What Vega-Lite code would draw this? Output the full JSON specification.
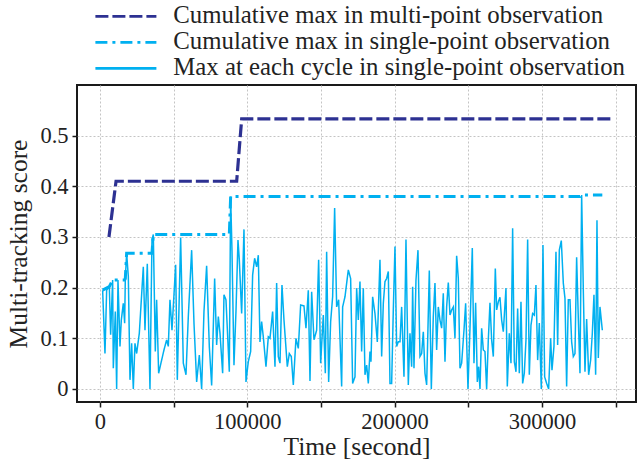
{
  "$schema": "https://vega.github.io/schema/vega-lite/v6.json",
  "autosize": {"type": "none"},
  "padding": {"left": 77, "top": 85, "right": 1, "bottom": 60},
  "width": 559,
  "height": 317,
  "background": "white",
  "config": {
    "font": "Liberation Serif",
    "view": {"stroke": "#1a1a1a", "strokeWidth": 2},
    "axis": {
      "domain": false,
      "grid": true,
      "gridColor": "#c4c4c4",
      "gridDash": [2, 2],
      "gridWidth": 1,
      "tickColor": "#1a1a1a",
      "tickWidth": 1.5,
      "tickSize": 5,
      "labelFont": "Liberation Serif",
      "labelFontSize": 22.5,
      "labelColor": "#222222",
      "titleFont": "Liberation Serif",
      "titleFontSize": 25.5,
      "titleFontWeight": "normal",
      "titleColor": "#222222"
    }
  },
  "datasets": {
    "multi": [
      {"t": 6100, "v": 0.300}, {"t": 10900, "v": 0.410}, {"t": 92800, "v": 0.410}, {"t": 96200, "v": 0.533}, {"t": 347400, "v": 0.533}
    ],
    "cumsingle": [
      {"t": 1810, "v": 0.195}, {"t": 6340, "v": 0.202}, {"t": 8600, "v": 0.215}, {"t": 16750, "v": 0.215}, {"t": 17200, "v": 0.218}, {"t": 18100, "v": 0.268}, {"t": 35300, "v": 0.268}, {"t": 36210, "v": 0.305}, {"t": 87800, "v": 0.305}, {"t": 88710, "v": 0.380}, {"t": 325870, "v": 0.380}, {"t": 327000, "v": 0.383}, {"t": 341030, "v": 0.383}
    ],
    "cycle": [
      {"t":1810,"v":0.195},{"t":3390,"v":0.070},{"t":4530,"v":0.195},{"t":6340,"v":0.202},{"t":7240,"v":0.107},{"t":8600,"v":0.215},{"t":9050,"v":0.041},{"t":10410,"v":0.153},{"t":11320,"v":0},{"t":12220,"v":0.215},
      {"t":13580,"v":0.084},{"t":14480,"v":0.136},{"t":15840,"v":0.169},{"t":16750,"v":0.130},{"t":17200,"v":0.218},{"t":18100,"v":0.268},{"t":19240,"v":0.222},{"t":20370,"v":0.018},{"t":21500,"v":0.090},{"t":22630,"v":0},
      {"t":23760,"v":0.090},{"t":24890,"v":0.070},{"t":26700,"v":0.110},{"t":29420,"v":0.241},{"t":30550,"v":0.116},{"t":32130,"v":0.247},{"t":33940,"v":0},{"t":35300,"v":0.294},{"t":36210,"v":0.305},{"t":37560,"v":0.074},
      {"t":38470,"v":0.176},{"t":39830,"v":0.031},{"t":41860,"v":0.057},{"t":43450,"v":0.077},{"t":45260,"v":0.097},{"t":46390,"v":0.084},{"t":47520,"v":0.176},{"t":48880,"v":0.116},{"t":51370,"v":0.245},{"t":52500,"v":0.018},
      {"t":54760,"v":0.299},{"t":56570,"v":0.051},{"t":58380,"v":0.028},{"t":59970,"v":0.143},{"t":62230,"v":0.274},{"t":63820,"v":0.130},{"t":65630,"v":0.014},{"t":67440,"v":0.067},{"t":69020,"v":0},{"t":70600,"v":0.153},
      {"t":72410,"v":0.243},{"t":74220,"v":0.084},{"t":75810,"v":0.007},{"t":77850,"v":0.218},{"t":79200,"v":0.087},{"t":80340,"v":0.143},{"t":81470,"v":0.110},{"t":83280,"v":0.031},{"t":84180,"v":0.186},{"t":85540,"v":0.176},
      {"t":87800,"v":0.034},{"t":88710,"v":0.380},{"t":89610,"v":0.274},{"t":90970,"v":0.047},{"t":92330,"v":0.153},{"t":93690,"v":0.294},{"t":94590,"v":0.255},{"t":96180,"v":0.149},{"t":97760,"v":0.315},{"t":99120,"v":0.014},
      {"t":100700,"v":0.054},{"t":102290,"v":0.074},{"t":103640,"v":0.225},{"t":105000,"v":0.258},{"t":106360,"v":0.241},{"t":107490,"v":0.264},{"t":108620,"v":0.093},{"t":109750,"v":0.133},{"t":110880,"v":0.103},{"t":112700,"v":0.044},
      {"t":114280,"v":0.103},{"t":115410,"v":0.100},{"t":117220,"v":0.153},{"t":118810,"v":0.044},{"t":119940,"v":0.209},{"t":121070,"v":0.064},{"t":122200,"v":0.051},{"t":123560,"v":0.205},{"t":124920,"v":0.136},{"t":127180,"v":0.044},
      {"t":128540,"v":0.070},{"t":129890,"v":0.064},{"t":131250,"v":0.008},{"t":133060,"v":0.100},{"t":134650,"v":0.080},{"t":136230,"v":0.166},{"t":138490,"v":0.164},{"t":139850,"v":0.120},{"t":141430,"v":0.195},{"t":142570,"v":0.016},
      {"t":143700,"v":0.192},{"t":145280,"v":0.097},{"t":147090,"v":0.116},{"t":148450,"v":0.255},{"t":149810,"v":0.051},{"t":151620,"v":0.146},{"t":152980,"v":0.031},{"t":153880,"v":0.271},{"t":155240,"v":0.014},{"t":156600,"v":0.133},
      {"t":157950,"v":0.182},{"t":159310,"v":0.357},{"t":160670,"v":0.162},{"t":162030,"v":0.176},{"t":164070,"v":0.005},{"t":164740,"v":0.162},{"t":166330,"v":0.182},{"t":168590,"v":0.235},{"t":170170,"v":0.218},{"t":171530,"v":0.011},
      {"t":173120,"v":0.024},{"t":174250,"v":0.199},{"t":175380,"v":0.136},{"t":176510,"v":0.212},{"t":177640,"v":0.074},{"t":178770,"v":0.199},{"t":179900,"v":0.028},{"t":181040,"v":0.047},{"t":182170,"v":0.011},{"t":183300,"v":0.074},
      {"t":183980,"v":0.054},{"t":185110,"v":0.182},{"t":186690,"v":0.149},{"t":188280,"v":0.093},{"t":190090,"v":0.255},{"t":191220,"v":0.064},{"t":192350,"v":0.169},{"t":193480,"v":0.212},{"t":194610,"v":0.218},{"t":195740,"v":0.232},
      {"t":196880,"v":0.011},{"t":198010,"v":0.011},{"t":199140,"v":0.156},{"t":200270,"v":0.281},{"t":201400,"v":0.084},{"t":202530,"v":0.093},{"t":203670,"v":0.093},{"t":204800,"v":0.162},{"t":206380,"v":0.024},{"t":207740,"v":0.295},
      {"t":209320,"v":0.008},{"t":210450,"v":0.110},{"t":211590,"v":0.044},{"t":212270,"v":0.202},{"t":213170,"v":0.041},{"t":214530,"v":0.215},{"t":215890,"v":0.274},{"t":217240,"v":0.064},{"t":218380,"v":0.070},{"t":219510,"v":0.113},
      {"t":220640,"v":0.031},{"t":221770,"v":0.008},{"t":223580,"v":0.234},{"t":224940,"v":0},{"t":226290,"v":0.143},{"t":227430,"v":0.209},{"t":228560,"v":0.077},{"t":229690,"v":0.162},{"t":230820,"v":0.136},{"t":231950,"v":0.120},
      {"t":233080,"v":0.189},{"t":234220,"v":0.054},{"t":235350,"v":0.162},{"t":236480,"v":0.210},{"t":237610,"v":0.146},{"t":238740,"v":0.156},{"t":239870,"v":0.162},{"t":241000,"v":0.100},{"t":242140,"v":0.263},{"t":243270,"v":0.218},
      {"t":244400,"v":0.041},{"t":245530,"v":0.051},{"t":247120,"v":0.116},{"t":248250,"v":0.169},{"t":249830,"v":0},{"t":251190,"v":0.120},{"t":252770,"v":0.278},{"t":253900,"v":0.051},{"t":255030,"v":0.170},{"t":256170,"v":0.014},
      {"t":257070,"v":0.044},{"t":257980,"v":0},{"t":259110,"v":0.120},{"t":260240,"v":0.077},{"t":261370,"v":0.074},{"t":262500,"v":0},{"t":263630,"v":0.097},{"t":264770,"v":0.170},{"t":265900,"v":0.097},{"t":267030,"v":0.064},
      {"t":268390,"v":0.238},{"t":269290,"v":0.156},{"t":270420,"v":0.172},{"t":271550,"v":0.181},{"t":272690,"v":0.136},{"t":273820,"v":0.113},{"t":275630,"v":0.199},{"t":276530,"v":0.005},{"t":277890,"v":0.110},{"t":279020,"v":0.051},
      {"t":280150,"v":0.317},{"t":281290,"v":0.054},{"t":282420,"v":0.034},{"t":283550,"v":0.159},{"t":284680,"v":0.031},{"t":285810,"v":0.172},{"t":286940,"v":0.011},{"t":288070,"v":0.031},{"t":289210,"v":0.097},{"t":290340,"v":0.295},
      {"t":291470,"v":0.028},{"t":292600,"v":0.126},{"t":293730,"v":0.149},{"t":294860,"v":0.146},{"t":295990,"v":0.205},{"t":297130,"v":0.057},{"t":298260,"v":0.130},{"t":299610,"v":0},{"t":300750,"v":0.284},{"t":301880,"v":0.024},
      {"t":303240,"v":0.011},{"t":304590,"v":0},{"t":305950,"v":0.100},{"t":306860,"v":0.037},{"t":308210,"v":0.084},{"t":309570,"v":0.271},{"t":310700,"v":0.087},{"t":311840,"v":0.274},{"t":313190,"v":0.293},{"t":314550,"v":0.209},
      {"t":315680,"v":0.179},{"t":316810,"v":0.005},{"t":317950,"v":0.176},{"t":319080,"v":0.176},{"t":320210,"v":0.093},{"t":321340,"v":0.064},{"t":322470,"v":0.070},{"t":323600,"v":0.260},{"t":324740,"v":0.139},{"t":325870,"v":0.031},
      {"t":327000,"v":0.383},{"t":328130,"v":0.195},{"t":329260,"v":0.034},{"t":330390,"v":0.138},{"t":331750,"v":0.028},{"t":333110,"v":0.057},{"t":334240,"v":0.110},{"t":335370,"v":0.186},{"t":336500,"v":0.028},{"t":337410,"v":0.333},
      {"t":338310,"v":0.061},{"t":339440,"v":0.162},{"t":341030,"v":0.116}
    ]
  },
  "encoding": {
    "x": {
      "field": "t", "type": "quantitative",
      "scale": {"domain": [-15600, 363900], "nice": false, "zero": false},
      "axis": {
        "title": "Time [second]",
        "values": [0, 50000, 100000, 150000, 200000, 250000, 300000, 350000],
        "format": "d",
        "labelExpr": "datum.value % 100000 === 0 ? datum.label : ''",
        "labelPadding": 3,
        "titlePadding": 2,
        "labelFlush": false
      }
    },
    "y": {
      "field": "v", "type": "quantitative",
      "scale": {"domain": [-0.0257, 0.6], "nice": false, "zero": false},
      "axis": {
        "title": "Multi-tracking score",
        "values": [0, 0.1, 0.2, 0.3, 0.4, 0.5],
        "format": ".1~f",
        "labelPadding": 4,
        "titlePadding": 8
      }
    }
  },
  "layer": [
    {
      "data": {"name": "cycle"},
      "mark": {"type": "line", "strokeWidth": 1.5},
      "encoding": {
        "color": {"datum": "Max at each cycle in single-point observation", "type": "nominal",
          "scale": {"domain": ["Cumulative max in multi-point observation", "Cumulative max in single-point observation", "Max at each cycle in single-point observation"], "range": ["#2d3192", "#00b0f0", "#00b0f0"]},
          "legend": {
            "orient": "none", "legendX": 36.5, "legendY": -81, "title": null,
            "symbolType": "M-3.05,0H3.05", "symbolSize": 400, "symbolStrokeWidth": 2.8,
            "labelFontSize": 24.8, "labelFont": "Liberation Serif", "labelColor": "#222222",
            "labelOffset": 35, "labelLimit": 0, "rowPadding": 0
          }
        },
        "strokeDash": {"datum": "Max at each cycle in single-point observation", "type": "nominal",
          "scale": {"domain": ["Cumulative max in multi-point observation", "Cumulative max in single-point observation", "Max at each cycle in single-point observation"], "range": [[13, 4], [12, 5, 3, 5], [1, 0]]}
        }
      }
    },
    {
      "data": {"name": "cumsingle"},
      "mark": {"type": "line", "strokeWidth": 3},
      "encoding": {
        "color": {"datum": "Cumulative max in single-point observation", "type": "nominal"},
        "strokeDash": {"datum": "Cumulative max in single-point observation", "type": "nominal"}
      }
    },
    {
      "data": {"name": "multi"},
      "mark": {"type": "line", "strokeWidth": 3.2},
      "encoding": {
        "color": {"datum": "Cumulative max in multi-point observation", "type": "nominal"},
        "strokeDash": {"datum": "Cumulative max in multi-point observation", "type": "nominal"}
      }
    }
  ]
}
